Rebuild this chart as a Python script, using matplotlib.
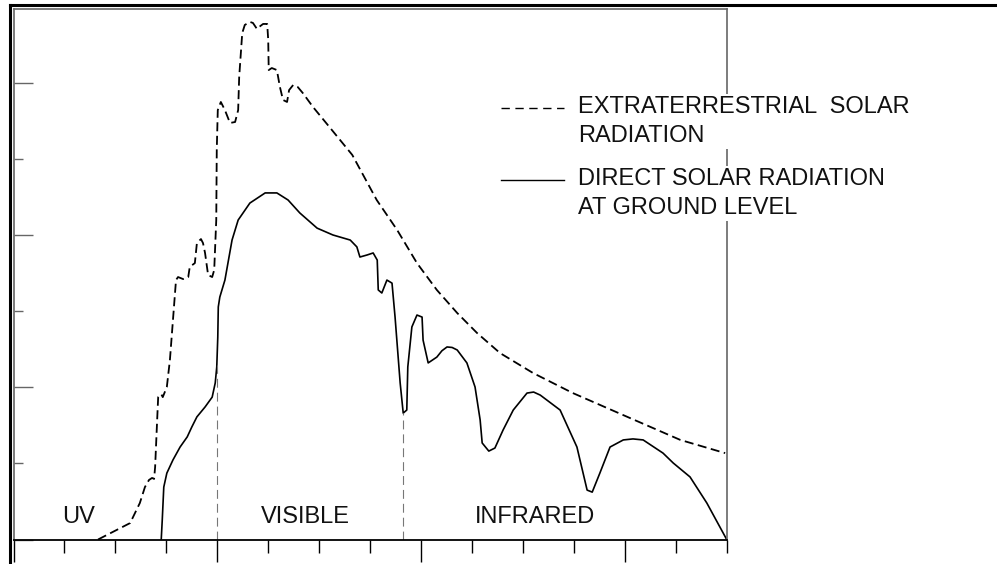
import matplotlib
matplotlib.use("Agg")
import matplotlib.pyplot as plt
import numpy as np
from matplotlib.lines import Line2D
from matplotlib.ticker import MultipleLocator

plt.rcParams['font.family'] = ['Liberation Sans', 'DejaVu Sans']

# wavelength (um) and spectral irradiance (W m-2 nm-1)
wl_extra = [0.166, 0.229, 0.248, 0.258, 0.266, 0.272, 0.276, 0.278, 0.282, 0.284,
            0.290, 0.293, 0.301, 0.307, 0.313, 0.319, 0.323, 0.333, 0.343, 0.346,
            0.356, 0.360, 0.368, 0.372, 0.376, 0.382, 0.390, 0.394, 0.398, 0.399,
            0.401, 0.407, 0.415, 0.425, 0.435, 0.441, 0.443, 0.449, 0.454, 0.464,
            0.470, 0.478, 0.482, 0.490, 0.498, 0.500, 0.501, 0.507, 0.517, 0.523,
            0.529, 0.537, 0.541, 0.549, 0.558, 0.568, 0.588, 0.617, 0.665, 0.713,
            0.753, 0.792, 0.831, 0.871, 0.910, 0.955, 1.020, 1.098, 1.197, 1.309,
            1.397]
irr_extra = [0.000, 0.065, 0.144, 0.207, 0.235, 0.243, 0.239, 0.286, 0.472, 0.562,
             0.574, 0.562, 0.602, 0.708, 0.866, 1.024, 1.036, 1.028, 1.036, 1.076,
             1.091, 1.170, 1.186, 1.170, 1.131, 1.044, 1.036, 1.064, 1.261, 1.537,
             1.695, 1.727, 1.695, 1.644, 1.648, 1.695, 1.825, 1.999, 2.031, 2.043,
             2.039, 2.015, 2.023, 2.035, 2.035, 1.972, 1.853, 1.861, 1.853, 1.786,
             1.735, 1.727, 1.774, 1.794, 1.786, 1.762, 1.707, 1.636, 1.518, 1.340,
             1.222, 1.091, 0.985, 0.894, 0.815, 0.736, 0.657, 0.578, 0.491, 0.393,
             0.341]

wl_ground = [0.290, 0.292, 0.295, 0.301, 0.313, 0.327, 0.341, 0.350, 0.360, 0.376,
             0.390, 0.396, 0.399, 0.401, 0.402, 0.405, 0.415, 0.429, 0.441, 0.464,
             0.494, 0.517, 0.539, 0.562, 0.596, 0.627, 0.661, 0.674, 0.680, 0.694,
             0.706, 0.714, 0.716, 0.723, 0.733, 0.743, 0.749, 0.759, 0.765, 0.772,
             0.774, 0.782, 0.792, 0.802, 0.804, 0.814, 0.831, 0.841, 0.851, 0.861,
             0.871, 0.890, 0.906, 0.916, 0.920, 0.933, 0.945, 0.961, 0.981, 1.008,
             1.021, 1.034, 1.073, 1.106, 1.126, 1.136, 1.151, 1.171, 1.197, 1.216,
             1.236, 1.275, 1.295, 1.328, 1.361, 1.400]
irr_ground = [0.000, 0.077, 0.207, 0.262, 0.314, 0.365, 0.405, 0.444, 0.484, 0.523,
              0.562, 0.618, 0.681, 0.799, 0.918, 0.957, 1.024, 1.182, 1.261, 1.328,
              1.368, 1.368, 1.340, 1.289, 1.229, 1.202, 1.182, 1.155, 1.115, 1.123,
              1.131, 1.103, 0.985, 0.973, 1.024, 1.012, 0.878, 0.618, 0.499, 0.511,
              0.681, 0.839, 0.886, 0.878, 0.787, 0.697, 0.720, 0.745, 0.760, 0.758,
              0.748, 0.697, 0.602, 0.472, 0.381, 0.349, 0.361, 0.432, 0.511, 0.578,
              0.582, 0.570, 0.511, 0.365, 0.195, 0.187, 0.262, 0.365, 0.393, 0.397,
              0.393, 0.341, 0.302, 0.247, 0.144, 0.000]

band_edges = [0.4, 0.765]
band_tops = [0.69, 0.499]
band_names = ['UV', 'VISIBLE', 'INFRARED']
band_label_x = [0.127, 0.572, 1.024]

legend_labels = ['EXTRATERRESTRIAL  SOLAR\nRADIATION',
                 'DIRECT SOLAR RADIATION\nAT GROUND LEVEL']

W, H = 997, 564
fig = plt.figure(figsize=(W / 100, H / 100), dpi=100)
ax = fig.add_axes([13.5 / W, 1 - 539.5 / H, (726.7 - 13.5) / W, (539.5 - 9) / H])

ax.plot(wl_extra, irr_extra, color='black', lw=1.3, dashes=(5, 2.5))
ax.plot(wl_ground, irr_ground, color='black', lw=1.2)

for xe, yt in zip(band_edges, band_tops):
    ax.plot([xe, xe], [0, yt], color='#777777', lw=0.8, dashes=(8, 4.5))

for name, xl in zip(band_names, band_label_x):
    ax.text(xl, 0.089, name, ha='center', va='center', fontsize=17, color='#111111')

ax.set_xlim(0, 1.4)
ax.set_ylim(0, 2.094)
ax.xaxis.set_major_locator(MultipleLocator(0.4))
ax.xaxis.set_minor_locator(MultipleLocator(0.1))
ax.yaxis.set_major_locator(MultipleLocator(0.6))
ax.yaxis.set_minor_locator(MultipleLocator(0.3))
ax.tick_params(axis='x', which='major', direction='out', length=15.5, width=1.0,
               color='black', labelbottom=False)
ax.tick_params(axis='x', which='minor', direction='out', length=9.5, width=1.0,
               color='black')
ax.tick_params(axis='y', which='major', direction='in', length=13.5, width=1.0,
               color='#666666', labelleft=False)
ax.tick_params(axis='y', which='minor', direction='in', length=6.5, width=1.0,
               color='#666666')

for side in ['left', 'top', 'right']:
    ax.spines[side].set_color('#666666')
    ax.spines[side].set_linewidth(1.2)
ax.spines['bottom'].set_color('black')
ax.spines['bottom'].set_linewidth(1.3)

# outer frame (top and left)
fig.add_artist(Line2D([10 / W, 1], [1 - 5 / H, 1 - 5 / H], color='black', lw=2.2,
                      transform=fig.transFigure))
fig.add_artist(Line2D([10 / W, 10 / W], [0, 1 - 5 / H], color='black', lw=2.2,
                      transform=fig.transFigure))

# legend
fig.add_artist(Line2D([501 / W, 564 / W], [1 - 108 / H, 1 - 108 / H], color='black',
                      lw=1.0, dashes=(6, 4), transform=fig.transFigure))
fig.add_artist(Line2D([501 / W, 564 / W], [1 - 180 / H, 1 - 180 / H], color='black',
                      lw=1.0, transform=fig.transFigure))
for lab, ytop in zip(legend_labels, [96, 168]):
    fig.text(578 / W, 1 - ytop / H, lab, ha='left', va='top', fontsize=17,
             color='#111111', linespacing=1.42,
             bbox=dict(facecolor='white', edgecolor='none', pad=1.5), zorder=5)

fig.savefig('out.png', dpi=100)
